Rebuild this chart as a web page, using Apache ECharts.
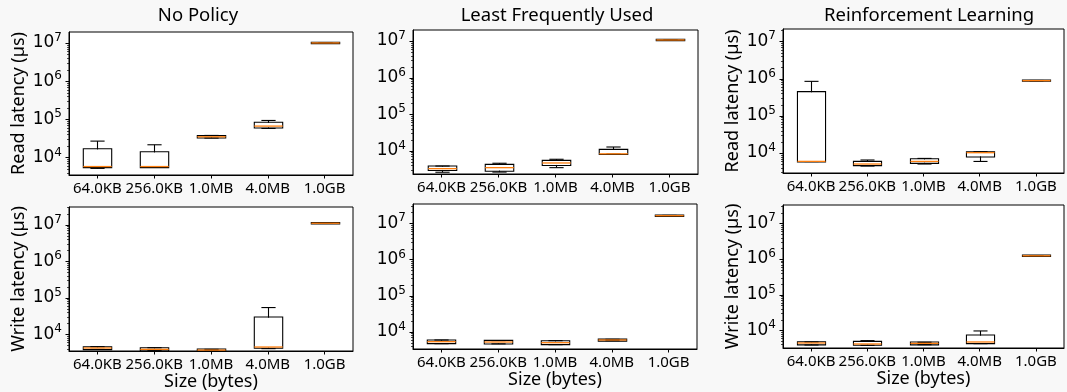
<!DOCTYPE html>
<html>
<head>
    <meta charset="utf-8">
    <title>Latency box plots</title>
    <script src="https://cdn.jsdelivr.net/npm/echarts@6/dist/echarts.min.js"></script>
    <style>
        body { margin: 0; background: #f8f8f8; }
    </style>
</head>
<body>
    <div id="main" style="width:1067px; height:392px;"></div>

    <script type="text/javascript">

        const sizes = ['64.0KB', '256.0KB', '1.0MB', '4.0MB', '1.0GB'];
        const policies = ['No Policy', 'Least Frequently Used', 'Reinforcement Learning'];

        // each row: [min, q1, median, q3, max] in µs, one row per size
        const readNoPolicy = [
            [5150, 5600, 5750, 16200, 26700],
            [5480, 5600, 5750, 13500, 21400],
            [32100, 33300, 34700, 36100, 37600],
            [57300, 61000, 66100, 80700, 92900],
            [9.9e6, 9.95e6, 1.0e7, 1.005e7, 1.01e7]
        ];
        const readLFU = [
            [2570, 2970, 3220, 3660, 3800],
            [2600, 2850, 3430, 4070, 4530],
            [3430, 4070, 4610, 5230, 5820],
            [8100, 8130, 8200, 10450, 12600],
            [1.05e7, 1.06e7, 1.065e7, 1.07e7, 1.08e7]
        ];
        const readRL = [
            [5900, 5940, 5960, 428000, 841000],
            [4470, 4760, 5060, 5730, 6490],
            [5060, 5480, 5940, 6730, 7160],
            [5940, 8110, 10200, 10380, 10800],
            [8.7e5, 8.75e5, 8.79e5, 8.83e5, 8.87e5]
        ];
        const writeNoPolicy = [
            [3870, 3950, 4220, 4400, 4580],
            [3560, 3640, 3870, 4130, 4300],
            [3550, 3600, 3700, 3800, 3870],
            [4050, 4300, 4490, 28600, 54000],
            [1.09e7, 1.095e7, 1.1e7, 1.105e7, 1.11e7]
        ];
        const writeLFU = [
            [4650, 4850, 5280, 5640, 5880],
            [4600, 4750, 5170, 5510, 5640],
            [4370, 4550, 4950, 5400, 5640],
            [5640, 5700, 5880, 6000, 6140],
            [1.6e7, 1.62e7, 1.63e7, 1.64e7, 1.66e7]
        ];
        const writeRL = [
            [3870, 4040, 4400, 4600, 4700],
            [3790, 3950, 4130, 4700, 5120],
            [3950, 4040, 4300, 4500, 4600],
            [4220, 4400, 4700, 7080, 9580],
            [1.21e6, 1.22e6, 1.23e6, 1.24e6, 1.25e6]
        ];

        const panelData = [readNoPolicy, readLFU, readRL, writeNoPolicy, writeLFU, writeRL];

        // grid boxes in px and y limits as log10 exponents
        const panels = [
            {left: 69,  top: 32,  width: 284, height: 143, lo: 3.538, hi: 7.287, yName: 'Read latency (µs)'},
            {left: 413, top: 30,  width: 285, height: 144, lo: 3.362, hi: 7.300, yName: ''},
            {left: 783, top: 29,  width: 281, height: 144, lo: 3.463, hi: 7.331, yName: 'Read latency (µs)'},
            {left: 69,  top: 207, width: 284, height: 144, lo: 3.543, hi: 7.486, yName: 'Write latency (µs)'},
            {left: 413, top: 204, width: 284, height: 145, lo: 3.520, hi: 7.536, yName: ''},
            {left: 783, top: 205, width: 281, height: 143, lo: 3.503, hi: 7.515, yName: 'Write latency (µs)'}
        ];
        const titleX = [198, 557, 929];

        const font = 'Noto Sans';
        const mathFont = 'DejaVu Sans';

        // log tick positions: 10^n major, 2..9 x 10^n minor
        function tickValues(lo, hi) {
            const out = [];
            for (let e = Math.floor(lo); e <= Math.ceil(hi); e++) {
                for (let m = 1; m <= 9; m++) {
                    const v = m * Math.pow(10, e);
                    const l = Math.log10(v);
                    if (l >= lo && l <= hi) out.push([v, m === 1 ? 1 : 0]);
                }
            }
            return out;
        }

        function renderBox(params, api) {
            const cs = params.coordSys;
            const band = cs.width / sizes.length;
            const i = api.value(0);
            const cx = Math.round(api.coord([i, api.value(3)])[0]) + 0.5;
            const y = function(k) { return api.coord([i, api.value(k)])[1]; };
            const yMin = y(1), yQ1 = y(2), yMed = y(3), yQ3 = y(4), yMax = y(5);
            const hw = band * 0.25, cw = band * 0.125;
            const black = {stroke: '#000', lineWidth: 1.1};
            return {
                type: 'group',
                children: [
                    {type: 'line', shape: {x1: cx, y1: yQ1, x2: cx, y2: yMin}, style: black},
                    {type: 'line', shape: {x1: cx, y1: yQ3, x2: cx, y2: yMax}, style: black},
                    {type: 'line', shape: {x1: cx - cw, y1: yMin, x2: cx + cw, y2: yMin}, style: black},
                    {type: 'line', shape: {x1: cx - cw, y1: yMax, x2: cx + cw, y2: yMax}, style: black},
                    {type: 'rect', shape: {x: cx - hw, y: yQ3 - 0.6, width: 2 * hw, height: yQ1 - yQ3 + 1.2},
                        style: {fill: 'none', stroke: '#000', lineWidth: 1.1}},
                    {type: 'line', shape: {x1: cx - hw, y1: yMed, x2: cx + hw, y2: yMed},
                        style: {stroke: '#ff7f0e', lineWidth: 1.3}}
                ]
            };
        }

        function renderTick(params, api) {
            const x = params.coordSys.x;
            const yy = Math.round(api.coord([0, api.value(0)])[1]) + 0.5;
            const major = api.value(1) === 1;
            return {
                type: 'line',
                shape: {x1: x - (major ? 3.5 : 2), y1: yy, x2: x, y2: yy},
                style: {stroke: '#000', lineWidth: major ? 1 : 0.7}
            };
        }

        const grids = [], xAxes = [], yAxes = [], series = [];
        panels.forEach(function(p, k) {
            grids.push({
                left: p.left, top: p.top, width: p.width, height: p.height,
                show: true, backgroundColor: '#fff', borderColor: '#000', borderWidth: 1
            });
            xAxes.push({
                gridIndex: k,
                type: 'category',
                data: sizes,
                boundaryGap: true,
                name: k >= 3 ? 'Size (bytes)' : '',
                nameLocation: 'middle',
                nameGap: 22,
                nameTextStyle: {fontFamily: font, fontSize: 18, color: '#000'},
                axisLine: {show: true, lineStyle: {color: '#000', width: 1}},
                axisTick: {show: true, alignWithLabel: true, length: 3.5, lineStyle: {color: '#000'}},
                axisLabel: {fontFamily: font, fontSize: 15, color: '#000', margin: 6, interval: 0},
                splitLine: {show: false}
            });
            yAxes.push({
                gridIndex: k,
                type: 'log',
                logBase: 10,
                min: Math.pow(10, p.lo),
                max: Math.pow(10, p.hi),
                name: p.yName,
                nameLocation: 'middle',
                nameRotate: 90,
                nameGap: 41,
                nameTextStyle: {fontFamily: font, fontSize: 18, color: '#000'},
                axisLine: {show: true, lineStyle: {color: '#000', width: 1}},
                axisTick: {show: false},
                splitLine: {show: false},
                axisLabel: {
                    showMinLabel: false,
                    showMaxLabel: false,
                    margin: 7,
                    fontFamily: mathFont,
                    fontSize: 17,
                    lineHeight: 22,
                    color: '#000',
                    formatter: function(v) {
                        const e = Math.log10(v);
                        const r = Math.round(e);
                        return Math.abs(e - r) < 1e-6 ? '10{s|' + r + '}' : '';
                    },
                    rich: {
                        s: {fontFamily: mathFont, fontSize: 12, color: '#000', verticalAlign: 'top', lineHeight: 13}
                    }
                }
            });
            series.push({
                type: 'custom',
                xAxisIndex: k,
                yAxisIndex: k,
                renderItem: renderBox,
                encode: {x: 0, y: [1, 2, 3, 4, 5]},
                data: panelData[k].map(function(row, i) { return [i].concat(row); }),
                silent: true
            });
            series.push({
                type: 'custom',
                xAxisIndex: k,
                yAxisIndex: k,
                renderItem: renderTick,
                encode: {y: 0},
                data: tickValues(p.lo, p.hi),
                silent: true
            });
        });

        const titles = policies.map(function(t, i) {
            return {
                type: 'text',
                x: titleX[i],
                y: 16,
                style: {
                    text: t, fontFamily: font, fontSize: 18.5, fill: '#000',
                    textAlign: 'center', textVerticalAlign: 'middle'
                }
            };
        });

        const myChart = echarts.init(document.getElementById('main'));
        myChart.setOption({
            backgroundColor: '#f8f8f8',
            animation: false,
            grid: grids,
            xAxis: xAxes,
            yAxis: yAxes,
            series: series,
            graphic: titles
        });
    </script>
</body>
</html>
